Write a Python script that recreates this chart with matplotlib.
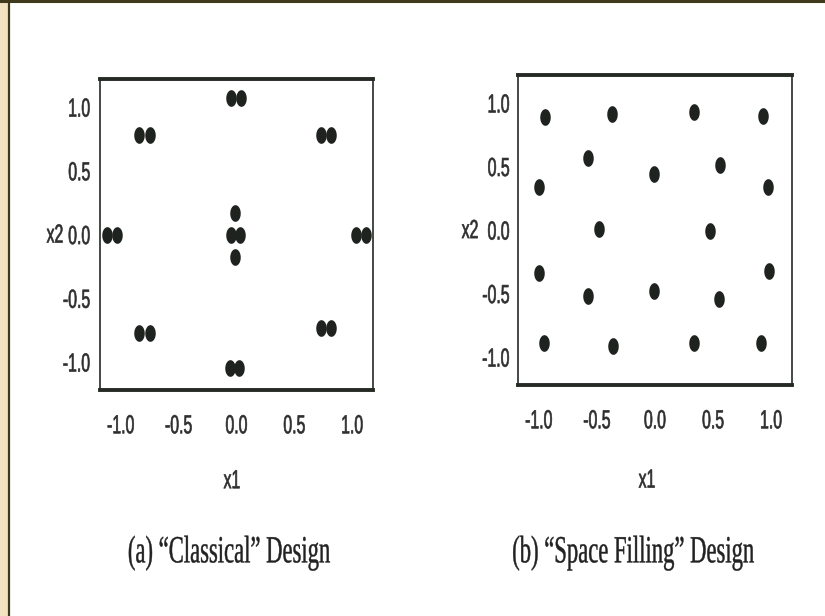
import matplotlib
matplotlib.use("Agg")
import matplotlib.pyplot as plt
from matplotlib.path import Path
from matplotlib.patches import Rectangle
from matplotlib.lines import Line2D
from matplotlib.patheffects import AbstractPathEffect
from matplotlib.transforms import Affine2D
import numpy as np

plt.rcParams["axes.unicode_minus"] = False

# Classical (central composite) design: replicated cube/axial points + centre runs
classical_x1 = [-0.05, 0.04, -0.84, -0.75, 0.73, 0.82, -1.12, -1.03, -0.01, -0.05,
                0.03, -0.01, 1.03, 1.12, -0.84, -0.75, 0.73, 0.82, -0.06, 0.02]
classical_x2 = [1.07, 1.07, 0.78, 0.78, 0.78, 0.78, 0.00, 0.00, 0.17, 0.00,
                0.00, -0.18, 0.00, 0.00, -0.77, -0.77, -0.73, -0.73, -1.05, -1.05]

# Space-filling design: 20 runs spread over the region
space_x1 = [-0.95, -0.37, 0.34, 0.93, -1.00, -0.58, -0.01, 0.56, 0.97, -0.48,
            0.47, -1.00, -0.58, -0.01, 0.55, 0.98, -0.96, -0.36, 0.34, 0.91]
space_x2 = [0.89, 0.91, 0.93, 0.90, 0.34, 0.57, 0.44, 0.51, 0.34, 0.01,
            -0.01, -0.34, -0.52, -0.48, -0.54, -0.32, -0.89, -0.91, -0.89, -0.89]

tick_values = [-1.0, -0.5, 0.0, 0.5, 1.0]
tick_labels = ["-1.0", "-0.5", "0.0", "0.5", "1.0"]
titles = ["(a) \u201cClassical\u201d Design", "(b) \u201cSpace Filling\u201d Design"]


class VerticalStretch(AbstractPathEffect):
    """Draw text glyphs stretched vertically about their own centre,
    with an optional thin outline to thicken the strokes."""

    def __init__(self, factor, stroke=0.0):
        super().__init__()
        self.factor = factor
        self.stroke = stroke

    def draw_path(self, renderer, gc, tpath, affine, rgbFace=None):
        box = tpath.get_extents(affine)
        cx = (box.x0 + box.x1) / 2
        cy = (box.y0 + box.y1) / 2
        t = affine + Affine2D().translate(-cx, -cy).scale(1.0, self.factor).translate(cx, cy)
        gc0 = renderer.new_gc()
        gc0.copy_properties(gc)
        if self.stroke > 0 and rgbFace is not None:
            gc0.set_linewidth(self.stroke)
            gc0.set_foreground(rgbFace)
            gc0.set_joinstyle("round")
        renderer.draw_path(gc0, tpath, t, rgbFace)
        gc0.restore()


TICK_FX = [VerticalStretch(1.65, stroke=0.45)]
TITLE_FX = [VerticalStretch(1.7, stroke=0.3)]

# tall oval dot marker
theta = np.linspace(0, 2 * np.pi, 60)
oval = Path(np.column_stack([0.63 * np.cos(theta), np.sin(theta)]), closed=True)

fig = plt.figure(figsize=(8.25, 6.16), dpi=100, facecolor="white")

# page edge decoration
fig.add_artist(Rectangle((0, 0), 8 / 825, 1, transform=fig.transFigure,
                         facecolor="#f2e4c2", edgecolor="none", zorder=0))
fig.add_artist(Line2D([9 / 825, 9 / 825], [0, 1], transform=fig.transFigure,
                      color="#3f3a1c", lw=1.6))
fig.add_artist(Line2D([0, 1], [1 - 1.2 / 616, 1 - 1.2 / 616], transform=fig.transFigure,
                      color="#3f3a1c", lw=2.2))

boxes = [
    (100 / 825, 1 - 390 / 616, 273 / 825, 311 / 616),
    (518 / 825, 1 - 385 / 616, 274 / 825, 310 / 616),
]
series = [(classical_x1, classical_x2), (space_x1, space_x2)]
ylabel_x = [-0.165, -0.175]
xlabel_pos = [(0.4835, -0.29), (0.471, -0.305)]
ypads = [7.0, 6.0]
title_pos = [(229 / 825, 1 - 553 / 616), (633 / 825, 1 - 553 / 616)]

text_color = "#2e2e2e"
for i, (rect, (xs, ys)) in enumerate(zip(boxes, series)):
    ax = fig.add_axes(rect)
    ax.plot(xs, ys, linestyle="none", marker=oval, markersize=12,
            color="#1f231f", markeredgewidth=0)
    ax.set_xlim(-1.18, 1.18)
    ax.set_ylim(-1.22, 1.22)
    for side in ("top", "bottom"):
        ax.spines[side].set_linewidth(2.8)
        ax.spines[side].set_color("#252a25")
    for side in ("left", "right"):
        ax.spines[side].set_linewidth(1.2)
        ax.spines[side].set_color("#252a25")

    ax.set_xticks(tick_values)
    ax.set_xticklabels(tick_labels)
    ax.set_yticks(tick_values)
    ax.set_yticklabels(tick_labels)
    ax.tick_params(axis="x", length=0, pad=20, labelsize=11.4, labelcolor=text_color)
    ax.tick_params(axis="y", length=0, pad=ypads[i], labelsize=11.4, labelcolor=text_color)
    for lab in ax.get_xticklabels() + ax.get_yticklabels():
        lab.set_fontfamily("Liberation Sans")
        lab.set_path_effects(TICK_FX)

    ax.set_xlabel("x1", fontsize=11.4, family="Liberation Sans", color=text_color)
    ax.xaxis.set_label_coords(*xlabel_pos[i])
    ax.xaxis.label.set_verticalalignment("center")
    ax.xaxis.label.set_path_effects(TICK_FX)

    ax.set_ylabel("x2", fontsize=11.4, family="Liberation Sans", color=text_color,
                  rotation=0, ha="center", va="center")
    ax.yaxis.set_label_coords(ylabel_x[i], 0.5)
    ax.yaxis.label.set_path_effects(TICK_FX)

    fig.text(title_pos[i][0], title_pos[i][1], titles[i], ha="center", va="center",
             fontsize=16.3, family="Liberation Serif", color="#222222",
             path_effects=TITLE_FX)

fig.savefig("out.png", dpi=100, facecolor="white")
